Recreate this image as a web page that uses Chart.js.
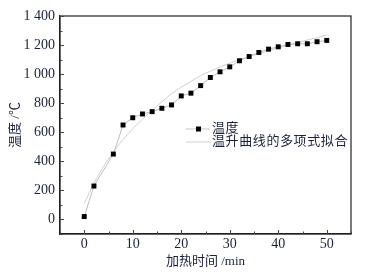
<!DOCTYPE html>
<html>
<head>
<meta charset="utf-8">
<script src="https://cdn.jsdelivr.net/npm/chart.js@4/dist/chart.umd.min.js"></script>
<style>
  html, body { margin: 0; padding: 0; background: #fff; }
  #wrap { width: 371px; height: 273px; }
</style>
</head>
<body>
<div id="wrap"><canvas id="graficoTemp" width="371" height="273"></canvas></div>
<script>
// datos
const tiempo = [0, 2, 6, 8, 10, 12, 14, 16, 18, 20, 22, 24, 26, 28, 30, 32, 34, 36, 38, 40, 42, 44, 46, 48, 50];
const temperatura = [20, 230, 450, 650, 700, 726, 742, 765, 788, 850, 869, 921, 977, 1016, 1050, 1092, 1121, 1149, 1172, 1188, 1204, 1209, 1209, 1223, 1232];
const tiempoAjuste = [0, 2, 4, 6, 8, 10, 12, 14, 16, 18, 20, 22, 24, 26, 28, 30, 32, 34, 36, 38, 40, 42, 44, 46, 48, 50];
const tempAjuste = [110, 250, 365, 465, 550, 625, 690, 750, 810, 865, 910, 950, 990, 1020, 1050, 1075, 1100, 1120, 1140, 1160, 1180, 1200, 1215, 1235, 1250, 1270];
const xTicks = [0, 10, 20, 30, 40, 50];
const yTicks = [0, 200, 400, 600, 800, 1000, 1200, 1400];
const serieNombres = ['温度', '温升曲线的多项式拟合'];

const textColor = '#1c2038';
const serif = "'Liberation Serif', 'Times New Roman', 'Noto Sans CJK SC', serif";

const toPts = (xs, ys) => xs.map((x, i) => ({x: x, y: ys[i]}));
const fmt = (v) => String(v).replace(/\B(?=(\d{3})+(?!\d))/g, ' ');

// marco, ticks hacia adentro y leyenda
const marco = {
  id: 'marco',
  afterDraw(chart) {
    const {ctx, chartArea: a, scales: {x, y}} = chart;
    ctx.save();
    ctx.strokeStyle = '#222';
    ctx.lineWidth = 1.2;
    ctx.strokeRect(a.left, a.top, a.right - a.left, a.bottom - a.top);
    ctx.lineWidth = 1;
    ctx.strokeStyle = '#444';
    for (let v = -5; v <= 55; v += 5) {
      const px = Math.round(x.getPixelForValue(v)) + 0.5;
      const len = xTicks.includes(v) ? 4 : 2.5;
      ctx.beginPath(); ctx.moveTo(px, a.bottom); ctx.lineTo(px, a.bottom - len); ctx.stroke();
    }
    for (let v = -100; v <= 1400; v += 100) {
      const py = Math.round(y.getPixelForValue(v)) + 0.5;
      const len = yTicks.includes(v) ? 4 : 2.5;
      ctx.beginPath(); ctx.moveTo(a.left, py); ctx.lineTo(a.left + len, py); ctx.stroke();
    }
    // leyenda
    const lx = 186, ly = 129;
    ctx.strokeStyle = '#c4c4c4';
    ctx.beginPath(); ctx.moveTo(lx, ly); ctx.lineTo(lx + 24, ly); ctx.stroke();
    ctx.fillStyle = '#000';
    ctx.fillRect(lx + 10, ly - 2.5, 5, 5);
    ctx.strokeStyle = '#d0d0d0';
    ctx.beginPath(); ctx.moveTo(lx, ly + 13); ctx.lineTo(lx + 25, ly + 13); ctx.stroke();
    ctx.fillStyle = textColor;
    ctx.font = '13px ' + serif;
    ctx.letterSpacing = '0.6px';
    ctx.textBaseline = 'middle';
    ctx.fillText(serieNombres[0], lx + 26, ly);
    ctx.fillText(serieNombres[1], lx + 26, ly + 13);
    ctx.restore();
  }
};

const ctx = document.getElementById('graficoTemp').getContext('2d');
const myChart = new Chart(ctx, {
  type: 'scatter',
  data: {
    datasets: [
      {
        label: serieNombres[0],
        data: toPts(tiempo, temperatura),
        showLine: true,
        borderColor: '#bdbdbd',
        borderWidth: 1,
        pointStyle: 'rect',
        pointRadius: 3.5,
        pointBackgroundColor: '#000',
        pointBorderColor: '#000',
        pointBorderWidth: 0,
      },
      {
        label: serieNombres[1],
        data: toPts(tiempoAjuste, tempAjuste),
        showLine: true,
        borderColor: '#cfcfcf',
        borderWidth: 1,
        pointRadius: 0,
        cubicInterpolationMode: 'monotone',
      },
    ],
  },
  options: {
    responsive: false,
    animation: false,
    layout: { padding: { left: 0, top: 16, right: 20, bottom: 0 } },
    plugins: { legend: { display: false }, tooltip: { enabled: false } },
    scales: {
      x: {
        type: 'linear',
        min: -5,
        max: 55,
        afterBuildTicks: (s) => { s.ticks = xTicks.map(v => ({value: v})); },
        afterFit: (s) => { s.height = 39; },
        grid: { drawOnChartArea: false, drawTicks: false },
        border: { display: true, color: '#222', width: 1.2 },
        ticks: { color: textColor, font: { family: serif, size: 14 }, padding: 2, maxRotation: 0 },
        title: {
          display: true,
          text: '加热时间 /min',
          color: textColor,
          font: { family: serif, size: 13 },
          padding: { top: 0, bottom: 4 },
        },
      },
      y: {
        type: 'linear',
        min: -100,
        max: 1400,
        afterBuildTicks: (s) => { s.ticks = yTicks.map(v => ({value: v})); },
        afterFit: (s) => { s.width = 60; },
        grid: { drawOnChartArea: false, drawTicks: false },
        border: { display: true, color: '#222', width: 1.2 },
        ticks: { color: textColor, font: { family: serif, size: 14 }, padding: 5, callback: (v) => fmt(v) },
        title: {
          display: true,
          text: '温度 /℃',
          color: textColor,
          font: { family: serif, size: 13 },
          padding: { top: 8, bottom: 0 },
        },
      },
    },
  },
  plugins: [marco],
});
</script>
</body>
</html>
